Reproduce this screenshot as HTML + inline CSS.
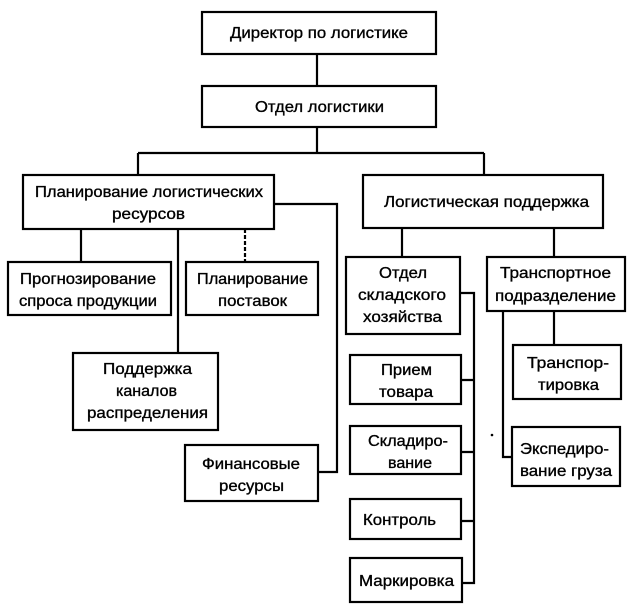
<!DOCTYPE html>
<html><head><meta charset="utf-8"><style>
html,body{margin:0;padding:0;background:#fff;}
svg{display:block;}
text{font-family:"Liberation Sans","Noto Sans CJK SC",sans-serif;font-size:16px;fill:#000;stroke:#000;stroke-width:0.35;}
</style></head><body>
<svg width="632" height="612" viewBox="0 0 632 612" xmlns="http://www.w3.org/2000/svg">
<g fill="none" stroke="#000" stroke-width="2.2">
<rect x="202" y="12" width="234" height="42"/>
<rect x="202" y="86" width="234" height="41"/>
<rect x="23" y="175" width="251" height="54"/>
<rect x="363" y="175" width="240" height="53"/>
<rect x="8" y="262" width="163" height="53"/>
<rect x="186" y="262" width="132" height="53"/>
<rect x="346" y="257" width="114" height="77"/>
<rect x="487" y="257" width="138" height="54"/>
<rect x="73" y="353" width="145" height="77"/>
<rect x="185" y="445" width="133" height="56"/>
<rect x="350" y="355" width="111" height="49"/>
<rect x="350" y="426" width="111" height="48"/>
<rect x="350" y="499" width="111" height="40"/>
<rect x="350" y="558" width="112" height="44"/>
<rect x="513" y="345" width="108" height="54"/>
<rect x="512" y="427" width="108" height="59"/>
<path d="M317 54V86M317 127V153M138 153H484M138 153V175M484 153V175"/>
<path d="M81 229V262M178 229V353M274 204H337V472H318"/>
<path d="M245 229V262" stroke-dasharray="4 2"/>
<path d="M402 228V257M554 228V257"/>
<path d="M460 293H474V583H462M461 380H474M461 452H474M461 521H474"/>
<path d="M554 311V345M503 311V457H512"/>
</g>
<circle cx="492" cy="435" r="1.3" fill="#000"/>
<g>
<text x="230" y="38" textLength="178" lengthAdjust="spacingAndGlyphs">Директор по логистике</text>
<text x="255" y="112" textLength="129" lengthAdjust="spacingAndGlyphs">Отдел логистики</text>
<text x="35" y="197" textLength="228" lengthAdjust="spacingAndGlyphs">Планирование логистических</text>
<text x="112" y="219" textLength="73" lengthAdjust="spacingAndGlyphs">ресурсов</text>
<text x="384" y="207" textLength="205" lengthAdjust="spacingAndGlyphs">Логистическая поддержка</text>
<text x="20" y="284" textLength="136" lengthAdjust="spacingAndGlyphs">Прогнозирование</text>
<text x="19" y="306" textLength="138" lengthAdjust="spacingAndGlyphs">спроса продукции</text>
<text x="197" y="284" textLength="111" lengthAdjust="spacingAndGlyphs">Планирование</text>
<text x="218" y="306" textLength="69" lengthAdjust="spacingAndGlyphs">поставок</text>
<text x="379" y="278" textLength="48" lengthAdjust="spacingAndGlyphs">Отдел</text>
<text x="358" y="300" textLength="88" lengthAdjust="spacingAndGlyphs">складского</text>
<text x="363" y="322" textLength="79" lengthAdjust="spacingAndGlyphs">хозяйства</text>
<text x="500" y="278" textLength="111" lengthAdjust="spacingAndGlyphs">Транспортное</text>
<text x="495" y="301" textLength="121" lengthAdjust="spacingAndGlyphs">подразделение</text>
<text x="103" y="374" textLength="89" lengthAdjust="spacingAndGlyphs">Поддержка</text>
<text x="116" y="396" textLength="61" lengthAdjust="spacingAndGlyphs">каналов</text>
<text x="87" y="418" textLength="121" lengthAdjust="spacingAndGlyphs">распределения</text>
<text x="202" y="469" textLength="98" lengthAdjust="spacingAndGlyphs">Финансовые</text>
<text x="219" y="491" textLength="65" lengthAdjust="spacingAndGlyphs">ресурсы</text>
<text x="381" y="375" textLength="51" lengthAdjust="spacingAndGlyphs">Прием</text>
<text x="379" y="397" textLength="54" lengthAdjust="spacingAndGlyphs">товара</text>
<text x="368" y="446" textLength="80" lengthAdjust="spacingAndGlyphs">Складиро-</text>
<text x="388" y="468" textLength="44" lengthAdjust="spacingAndGlyphs">вание</text>
<text x="363" y="525" textLength="73" lengthAdjust="spacingAndGlyphs">Контроль</text>
<text x="359" y="586" textLength="95" lengthAdjust="spacingAndGlyphs">Маркировка</text>
<text x="527" y="368" textLength="82" lengthAdjust="spacingAndGlyphs">Транспор-</text>
<text x="538" y="390" textLength="61" lengthAdjust="spacingAndGlyphs">тировка</text>
<text x="520" y="454" textLength="89" lengthAdjust="spacingAndGlyphs">Экспедиро-</text>
<text x="520" y="476" textLength="92" lengthAdjust="spacingAndGlyphs">вание груза</text>
</g>
</svg>
</body></html>
